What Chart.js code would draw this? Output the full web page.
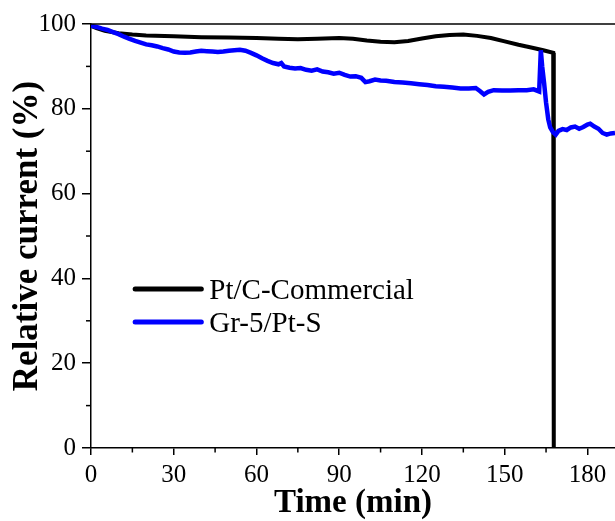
<!DOCTYPE html>
<html>
<head>
<meta charset="utf-8">
<script src="https://cdn.jsdelivr.net/npm/chart.js@4/dist/chart.umd.min.js"></script>
<style>
  html, body { margin: 0; padding: 0; background: #fff; }
  #wrap { width: 615px; height: 521px; }
</style>
</head>
<body>
<div id="wrap"><canvas id="c" width="615" height="521"></canvas></div>
<script>
// ---- Data ----
const seriesNames = ["Pt/C-Commercial", "Gr-5/Pt-S"];
const seriesColors = ["#000000", "#0000ff"];

const ptcTime = [0, 2, 5, 10, 15, 20, 30, 40, 50, 60, 68, 75, 82, 90, 95, 100, 105, 110, 115, 120, 125, 130, 135, 140, 145, 150, 155, 160, 164, 167.6, 167.8];
const ptcCurrent = [99.6, 99.0, 98.4, 97.8, 97.5, 97.3, 97.1, 96.9, 96.8, 96.7, 96.5, 96.4, 96.5, 96.7, 96.5, 96.1, 95.8, 95.7, 96.0, 96.6, 97.1, 97.4, 97.5, 97.2, 96.7, 95.9, 95.1, 94.4, 93.8, 93.2, 0];

const grTime = [0, 2, 4, 6, 8, 10, 12, 14, 16, 18, 20, 22, 24, 26, 28, 30, 32, 34, 36, 38, 40, 42, 44, 46, 48, 50, 52, 54, 56, 58, 60, 62, 64, 66, 68, 69, 70, 72, 74, 76, 78, 80, 82, 84, 86, 88, 90, 92, 94, 96, 98, 99.5, 101, 103, 105, 107, 110, 113, 116, 119, 122, 125, 128, 131, 134, 137, 139.5, 141, 142.5, 144, 146, 149, 152, 155, 158, 160.5, 162.5, 163.1, 163.6, 164.3, 165, 165.8, 166.5, 167.5, 168.5, 169.5, 171, 172.5, 174, 175.5, 177, 178.5, 180, 181, 182.5, 184, 185.5, 187, 188.5, 190];
const grCurrent = [99.6, 99.3, 98.9, 98.6, 98.1, 97.6, 97.0, 96.5, 96.0, 95.6, 95.2, 95.0, 94.7, 94.3, 94.0, 93.5, 93.3, 93.2, 93.3, 93.5, 93.7, 93.6, 93.5, 93.4, 93.5, 93.7, 93.8, 93.9, 93.7, 93.2, 92.6, 91.9, 91.3, 90.8, 90.5, 90.8, 90.0, 89.7, 89.5, 89.6, 89.2, 89.0, 89.3, 88.8, 88.6, 88.3, 88.5, 88.0, 87.6, 87.7, 87.3, 86.3, 86.5, 86.9, 86.7, 86.6, 86.3, 86.2, 86.0, 85.8, 85.6, 85.3, 85.2, 85.0, 84.8, 84.8, 84.9, 84.2, 83.4, 84.0, 84.4, 84.3, 84.3, 84.4, 84.4, 84.6, 84.1, 93.8, 90.0, 86.0, 81.5, 77.5, 75.6, 74.5, 73.9, 74.8, 75.2, 75.0, 75.6, 75.8, 75.3, 75.7, 76.3, 76.5, 75.8, 75.3, 74.3, 73.9, 74.2, 74.3];

const xTickValues = [0, 30, 60, 90, 120, 150, 180];
const xMinorValues = [15, 45, 75, 105, 135, 165];
const yTickValues = [0, 20, 40, 60, 80, 100];
const yMinorValues = [10, 30, 50, 70, 90];

const xTitle = "Time (min)";
const yTitle = "Relative current (%)";

// ---- Chart ----
const FONT = "'Liberation Serif', 'Times New Roman', serif";

function toPoints(xs, ys) { return xs.map((x, i) => ({ x: x, y: ys[i] })); }

const extrasPlugin = {
  id: 'extras',
  afterDraw(chart) {
    const ctx = chart.ctx;
    const ca = chart.chartArea;
    const xs = chart.scales.x, ys = chart.scales.y;
    ctx.save();
    ctx.strokeStyle = '#000';
    ctx.lineWidth = 1.5;
    // top frame line
    ctx.beginPath();
    ctx.moveTo(ca.left, ca.top);
    ctx.lineTo(ca.right, ca.top);
    ctx.stroke();
    // minor ticks
    xMinorValues.forEach(v => {
      const px = xs.getPixelForValue(v);
      ctx.beginPath();
      ctx.moveTo(px, ca.bottom);
      ctx.lineTo(px, ca.bottom + 4.5);
      ctx.stroke();
    });
    yMinorValues.forEach(v => {
      const py = ys.getPixelForValue(v);
      ctx.beginPath();
      ctx.moveTo(ca.left, py);
      ctx.lineTo(ca.left - 5, py);
      ctx.stroke();
    });
    // legend
    const lx0 = xs.getPixelForValue(16), lx1 = xs.getPixelForValue(40);
    const ly0 = ys.getPixelForValue(37.5), dy = 33;
    chart.data.datasets.forEach((ds, i) => {
      const idx = seriesNames.indexOf(ds.label);
      const y = ly0 + idx * dy;
      ctx.strokeStyle = ds.borderColor;
      ctx.lineWidth = 5;
      ctx.lineCap = 'round';
      ctx.beginPath();
      ctx.moveTo(lx0, y);
      ctx.lineTo(lx1, y);
      ctx.stroke();
      ctx.fillStyle = '#000';
      ctx.font = "29px " + FONT;
      ctx.textBaseline = 'alphabetic';
      ctx.textAlign = 'left';
      ctx.fillText(ds.label, lx1 + 8, y + 10);
    });
    ctx.restore();
  }
};

new Chart(document.getElementById('c'), {
  type: 'line',
  data: {
    datasets: [
      {
        label: seriesNames[1],
        data: toPoints(grTime, grCurrent),
        borderColor: seriesColors[1],
        borderWidth: 4.5,
        pointRadius: 0,
        tension: 0,
        fill: false,
        order: 0
      },
      {
        label: seriesNames[0],
        data: toPoints(ptcTime, ptcCurrent),
        borderColor: seriesColors[0],
        borderWidth: 4,
        pointRadius: 0,
        tension: 0,
        fill: false,
        order: 1
      }
    ]
  },
  options: {
    responsive: false,
    animation: false,
    layout: { padding: { top: 24, right: 0, bottom: 0, left: 0 } },
    plugins: {
      legend: { display: false },
      tooltip: { enabled: false }
    },
    scales: {
      x: {
        type: 'linear',
        min: 0,
        max: 190,
        afterBuildTicks: (axis) => { axis.ticks = xTickValues.map(v => ({ value: v })); },
        afterFit: (scale) => { scale.height = 73; },
        border: { display: true, color: '#000', width: 1.5 },
        grid: { display: true, drawOnChartArea: false, drawTicks: true, tickLength: 7, color: '#000', lineWidth: 1.5 },
        ticks: { color: '#000', font: { family: FONT, size: 25 }, padding: 5, maxRotation: 0, autoSkip: false },
        title: { display: true, text: xTitle, color: '#000', font: { family: FONT, size: 33, weight: 'bold', lineHeight: 1 }, padding: { top: 0, bottom: 1 } }
      },
      y: {
        type: 'linear',
        min: 0,
        max: 100,
        afterBuildTicks: (axis) => { axis.ticks = yTickValues.map(v => ({ value: v })); },
        afterFit: (scale) => { scale.width = 91; },
        border: { display: true, color: '#000', width: 1.5 },
        grid: { display: true, drawOnChartArea: false, drawTicks: true, tickLength: 9, color: '#000', lineWidth: 1.5 },
        ticks: { color: '#000', font: { family: FONT, size: 25 }, padding: 6 },
        title: { display: true, text: yTitle, color: '#000', font: { family: FONT, size: 35, weight: 'bold', lineHeight: 1 }, padding: { top: 10, bottom: 0 } }
      }
    }
  },
  plugins: [extrasPlugin]
});
</script>
</body>
</html>
